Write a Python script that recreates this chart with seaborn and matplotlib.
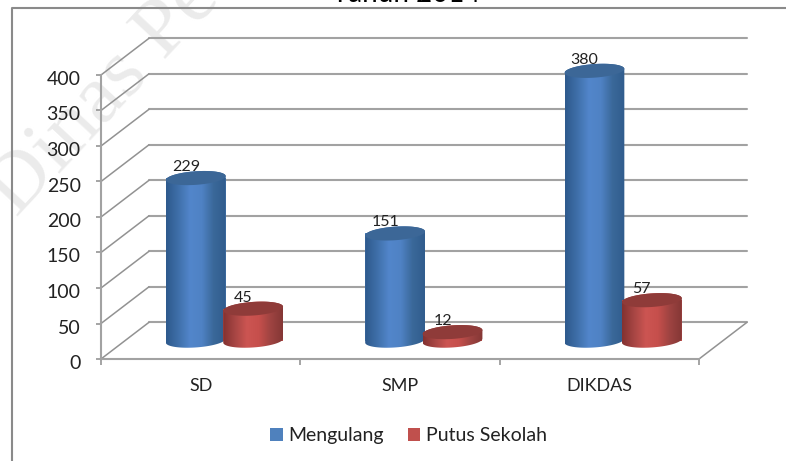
import numpy as np
import pandas as pd
import matplotlib
matplotlib.use('Agg')
import matplotlib.pyplot as plt
from matplotlib.lines import Line2D
from matplotlib.patches import PathPatch
from matplotlib.path import Path
from matplotlib.transforms import ScaledTranslation
import seaborn as sns

categories = ['SD', 'SMP', 'DIKDAS']
mengulang = [229, 151, 380]
putus_sekolah = [45, 12, 57]
series_names = ['Mengulang', 'Putus Sekolah']
y_ticks = [0, 50, 100, 150, 200, 250, 300, 350, 400]

W, H = 786, 461
LINE = '#a2a2a2'
DIAG = '#929292'
AXIS = '#8c8c8c'
TEXT = '#222222'

sns.set_theme(style='white')
plt.rcParams['font.family'] = ['Lato', 'DejaVu Sans']

df = pd.DataFrame({
    'cat': categories * 2,
    'value': mengulang + putus_sekolah,
    'series': [series_names[0]] * 3 + [series_names[1]] * 3,
})

fig = plt.figure(figsize=(W / 100, H / 100), dpi=100, facecolor='white')
ax = fig.add_axes([101 / W, (H - 359) / H, 598 / W, 284 / H])
ax.patch.set_visible(False)

sns.barplot(data=df, x='cat', y='value', hue='series', ax=ax, width=0.6, gap=0,
            palette=['#4f81bd', '#c0504d'], saturation=1, linewidth=0, errorbar=None)

# depth of the fake 3d box in data units
DX = 48 / 598 * 3
DY = 36.7 / 0.71
ELL_B = 6.8 / 0.71
ELL_K = 2.0 / 0.71
# the two cylinders overlap a little
NUDGE = [0.005, -0.007]

# back wall and diagonals
for t in y_ticks:
    ax.plot([-0.5 + DX, 2.5 + DX], [t + DY, t + DY], color=LINE, lw=1.5, clip_on=False, zorder=0.5)
    ax.plot([-0.5, -0.5 + DX], [t, t + DY], color=DIAG, lw=1.1, clip_on=False, zorder=0.5)
ax.plot([2.5, 2.5 + DX], [0, DY], color=DIAG, lw=1.1, clip_on=False, zorder=0.5)


def ring(cx, cy, a, t):
    return np.column_stack([cx + a * np.cos(t), cy + ELL_B * np.sin(t) + ELL_K * np.cos(t)])


gradients = [['#2e5a8d', '#3f6fa9', '#5286cb', '#4f82c4', '#3a6899', '#315d8e'],
             ['#843231', '#a84644', '#cc5552', '#c64f4c', '#9e4341', '#853736']]
tops = ['#3c6797', '#8f3b39']

z = 3
for cont, grad, top_col, nudge in zip(ax.containers, gradients, tops, NUDGE):
    rgb = np.array([matplotlib.colors.to_rgb(c) for c in grad])
    xs = np.linspace(0, 1, 60)
    img = np.stack([np.interp(xs, np.linspace(0, 1, len(grad)), rgb[:, i]) for i in range(3)], axis=1)[None, :, :]
    for bar in cont:
        val = bar.get_height()
        bar.set_x(bar.get_x() + DX / 2 + nudge)
        bar.set_y(DY / 2)
        bar.set_zorder(z)
        bar.set_clip_on(False)
        a = bar.get_width() / 2
        cx = bar.get_x() + a
        y0, y1 = DY / 2, DY / 2 + val

        lower = ring(cx, y0, a, np.linspace(np.pi, 2 * np.pi, 40))
        upper = ring(cx, y1, a, np.linspace(0, np.pi, 40))
        body = Path(np.vstack([lower, upper, lower[:1]]), closed=True)
        im = ax.imshow(img, extent=[cx - a, cx + a, y0 - 15, y1 + 15], aspect='auto',
                       interpolation='bilinear', zorder=z + 0.1)
        im.set_clip_path(body, transform=ax.transData)
        im.set_clip_box(fig.bbox)

        lid = ring(cx, y1, a, np.linspace(0, 2 * np.pi, 80))
        ax.add_patch(PathPatch(Path(lid, closed=True), facecolor=top_col, edgecolor='none',
                               clip_on=False, zorder=z + 0.2))
        ax.text(cx - 0.05, y1 + 15.5, str(int(val)), ha='center', va='center', fontsize=11.5,
                color=TEXT, zorder=20)
        z += 1

ax.set_xlim(-0.5, 2.5)
ax.set_ylim(0, 400)
ax.set_xlabel('')
ax.set_ylabel('')

ax.set_yticks(y_ticks)
ax.set_xticks([-0.5, 0.5, 1.5, 2.5])
ax.set_xticklabels([])
ax.set_xticks([0, 1, 2], labels=categories, minor=True)
ax.tick_params(axis='y', which='major', length=3.6, width=1.1, color=AXIS, left=True, pad=11,
               labelsize=14, labelcolor=TEXT)
ax.tick_params(axis='x', which='major', length=4.3, width=1.1, color=AXIS, bottom=True)
ax.tick_params(axis='x', which='minor', length=0, pad=14, labelsize=13, labelcolor=TEXT)
# numbers sit a little under their ticks
for lab in ax.get_yticklabels():
    lab.set_transform(lab.get_transform() + ScaledTranslation(0, -3 / 100, fig.dpi_scale_trans))
for side in ['top', 'right']:
    ax.spines[side].set_visible(False)
for side in ['left', 'bottom']:
    ax.spines[side].set_color(LINE)
    ax.spines[side].set_linewidth(1.5)

handles, labels = ax.get_legend_handles_labels()
ax.legend(handles, labels, ncol=2, frameon=False, loc='center',
          bbox_to_anchor=(408.5 / W, (H - 435.5) / H), bbox_transform=fig.transFigure,
          fontsize=14, handlelength=0.65, handleheight=0.65, handletextpad=0.27,
          columnspacing=1.23, borderpad=0, labelcolor=TEXT)

# chart frame, only top and left survive the crop
fig.add_artist(Line2D([12 / W, 12 / W, 1], [0, (H - 8.5) / H, (H - 8.5) / H], color='#8a8a8a', lw=1.5))

fig.text(406 / W, (H - 2) / H, 'Tahun 2014', ha='center', va='baseline', fontsize=20, color='black')

# watermark behind the chart
fig.text(17 / W, (H - 218) / H, 'Dinas Pe', rotation=47, rotation_mode='anchor', ha='left', va='baseline',
         fontsize=60, family=['Liberation Serif'], color='#ebebeb', zorder=-1)

fig.savefig('out.png', dpi=100)
